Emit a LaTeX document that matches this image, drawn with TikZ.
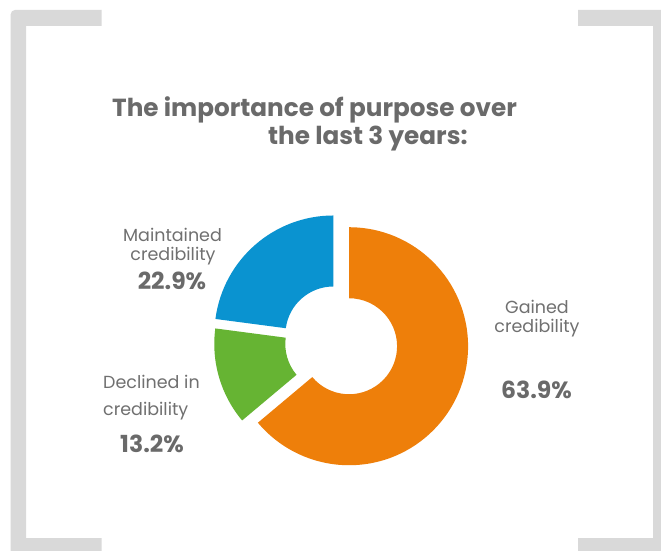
\documentclass[tikz,border=0pt]{standalone}
\usepackage{fontspec}
\setmainfont{Poppins}
\definecolor{framegray}{HTML}{D9D9D9}
\definecolor{txtgray}{HTML}{6A6A6A}
\definecolor{lblgray}{HTML}{707070}
\definecolor{orangeS}{HTML}{EE7F0A}
\definecolor{blueS}{HTML}{0A93D0}
\definecolor{greenS}{HTML}{66B433}
\newcommand\myslice[5]{%
  \begin{scope}[shift={(340,208)}, shift={(#2:#5)}]
    \fill[#1] (#3:119) arc[start angle=#3, end angle=#4, radius=119]
      -- (#4:48) arc[start angle=#4, end angle=#3, radius=48] -- cycle;
  \end{scope}}
\tikzset{
  titletxt/.style={inner sep=0, text=txtgray, font=\fontsize{24.7}{28}\selectfont\bfseries},
  lbltxt/.style={inner sep=0, text=lblgray, font=\fontsize{17.5}{20}\selectfont},
  pcttxt/.style={inner sep=0, text=txtgray, font=\fontsize{23.5}{26}\selectfont\bfseries},
}
\begin{document}
\begin{tikzpicture}[x=1pt,y=1pt]
\useasboundingbox (0,0) rectangle (661,550);
\clip (0,0) rectangle (661,550);
\fill[white] (0,0) rectangle (661,550);
% frame brackets
\fill[framegray] (10.7,-5) -- (10.7,535.7) arc[start angle=180, end angle=90, radius=4.3]
  -- (101.7,540) -- (101.7,524) -- (26,524) -- (26,12) -- (101.7,12) -- (101.7,-5) -- cycle;
\fill[framegray] (578,540) -- (670,540) -- (670,-5) -- (578,-5) -- (578,12)
  -- (653,12) -- (653,524) -- (578,524) -- cycle;
% donut
\myslice{orangeS}{-25}{90}{-140}{10}
\myslice{greenS}{196.25}{172.5}{220}{7}
\myslice{blueS}{131.25}{90}{172.5}{10}
% title
\node[titletxt, anchor=base west] (t1) at (112,433) {The importance of purpose over};
\node[titletxt, anchor=base west] (t2) at (268,405) {the last 3 years:};
% labels
\node[lbltxt, anchor=base] (m1) at (172.5,309) {Maintained};
\node[lbltxt, anchor=base] (m2) at (173,290) {credibility};
\node[pcttxt, anchor=base] (m3) at (172,261) {22.9\%};
\node[lbltxt, anchor=base west] (d1) at (103,162) {Declined in};
\node[lbltxt, anchor=base west] (d2) at (103,135) {credibility};
\node[pcttxt, anchor=base] (d3) at (152,98) {13.2\%};
\node[lbltxt, anchor=base] (g1) at (537,237) {Gained};
\node[lbltxt, anchor=base] (g2) at (537,218) {credibility};
\node[pcttxt, anchor=base] (g3) at (536.5,152) {63.9\%};
\end{tikzpicture}
\end{document}
